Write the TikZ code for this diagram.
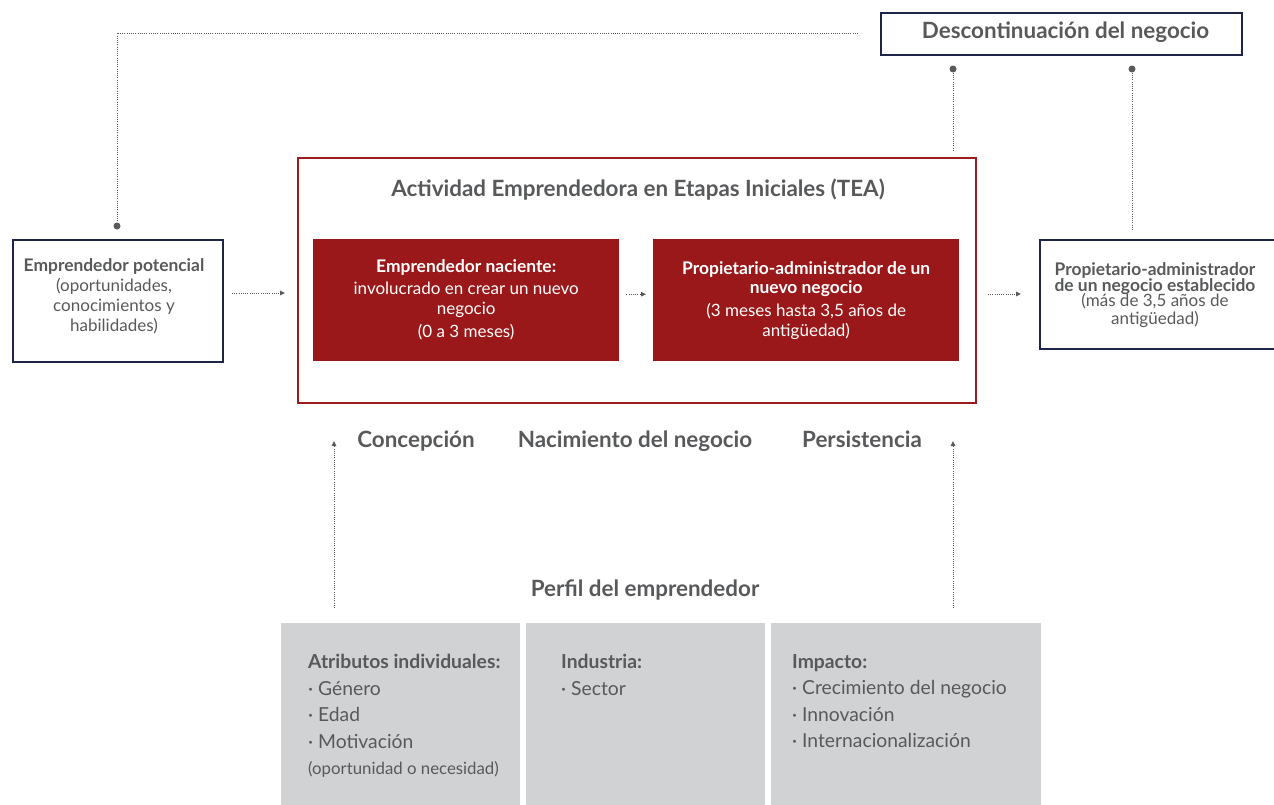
\documentclass[tikz,border=0pt]{standalone}
\usepackage{fontspec}
\setmainfont{Lato}
\usetikzlibrary{arrows.meta}
\definecolor{navy}{HTML}{1F2548}
\definecolor{tred}{HTML}{9B1B1E}
\definecolor{rfill}{HTML}{9A1819}
\definecolor{txt}{HTML}{58595B}
\definecolor{gbox}{HTML}{D1D2D4}
\definecolor{dotc}{HTML}{5A5A5A}
\newcommand{\bx}[1]{{\fontsize{17.4}{20}\selectfont\bfseries #1}}
\tikzset{
  navybox/.style={draw=navy,line width=2pt,fill=white,anchor=north west,inner sep=0pt},
  boxtext/.style={inner sep=0pt,align=center,text=txt,font=\fontsize{17}{20}\selectfont},
  redframe/.style={draw=tred,line width=2pt,anchor=north west,inner sep=0pt},
  redbox/.style={fill=rfill,anchor=north west,inner sep=0pt,align=center,text=white,
    font=\fontsize{17}{20}\selectfont},
  graybox/.style={fill=gbox,anchor=north west,inner sep=0pt},
  graytext/.style={anchor=north west,inner sep=0pt,align=left,text=txt,
    font=\fontsize{19.3}{26.5}\selectfont},
  heading/.style={text=txt,inner sep=0pt,anchor=base,font=\fontsize{22.4}{26}\selectfont\bfseries},
  dotline/.style={draw=dotc,line width=1pt,dash pattern=on 1pt off 1.2pt},
  dotarrow/.style={dotline,-{Triangle[length=5pt,width=4.5pt]}},
  blob/.style={circle,fill=dotc,inner sep=0pt,minimum size=7pt}
}
\begin{document}
\begin{tikzpicture}[x=1pt,y=-1pt]
\useasboundingbox (0,0) rectangle (1274,804);
\clip (0,0) rectangle (1274,804);

% top box
\node[navybox,minimum width=361pt,minimum height=42pt] (desc) at (880,12) {};
\node[heading,anchor=center] (desct) at ([xshift=4pt,yshift=1.5pt]desc.center)
  {Descontinuación del negocio};

% potential entrepreneur
\node[navybox,minimum width=210pt,minimum height=122pt] (pot) at (12,239) {};
\node[boxtext] (pott) at ([xshift=-4pt,yshift=5pt]pot.center)
  {\bx{Emprendedor potencial}\\ (oportunidades,\\ conocimientos y\\ habilidades)};

% TEA frame
\node[redframe,minimum width=678pt,minimum height=245pt] (tea) at (297,157) {};
\node[heading] (teat) at (638,196) {Actividad Emprendedora en Etapas Iniciales (TEA)};

\node[redbox,minimum width=306pt,minimum height=122pt] (nac) at (313,239)
  {\bx{Emprendedor naciente:}\\[2pt]
   involucrado en crear un nuevo\\ negocio\\[3pt] (0 a 3 meses)};
\node[redbox,minimum width=306pt,minimum height=122pt] (nue) at (653,239)
  {\bx{Propietario-administrador de un}\\[-1pt] \bx{nuevo negocio}\\[3pt]
   (3 meses hasta 3,5 años de\\ antigüedad)};

% established
\node[navybox,minimum width=236pt,minimum height=109pt] (est) at (1039,239) {};
\node[boxtext,font=\fontsize{17}{18}\selectfont] (estt) at ([xshift=-3pt,yshift=-1pt]est.center)
  {\bx{Propietario-administrador}\\[-2pt] \bx{de un negocio establecido}\\[-3pt] (más de 3,5 años de\\ antigüedad)};

% stage labels
\node[heading] (conc) at (416,447) {Concepción};
\node[heading] (naci) at (635,447) {Nacimiento del negocio};
\node[heading] (pers) at (862,447) {Persistencia};
\node[heading] (perf) at (645,596) {Perfil del emprendedor};

% gray boxes
\node[graybox,minimum width=239pt,minimum height=182pt] (g1) at (281,623) {};
\node[graybox,minimum width=239pt,minimum height=182pt] (g2) at (526,623) {};
\node[graybox,minimum width=270pt,minimum height=182pt] (g3) at (771,623) {};
\node[graytext] (t1) at (308,654)
  {\textbf{Atributos individuales:}\\ · Género\\ · Edad\\ · Motivación\\
   \fontsize{16.8}{18}\selectfont (oportunidad o necesidad)};
\node[graytext] (t2) at (561,654) {\textbf{Industria:}\\ · Sector};
\node[graytext] (t3) at (792,654)
  {\textbf{Impacto:}\\ · Crecimiento del negocio\\ · Innovación\\ · Internacionalización};

% connectors
\coordinate (tl) at (858,33);
\coordinate (p1) at (117,226);
\draw[dotline] (tl) -| (p1);
\node[blob] (b0) at (p1) {};

\node[blob] (b1) at (953,69) {};
\node[blob] (b2) at (1132,69) {};
\coordinate (e1) at (953,150);
\coordinate (e2) at (1132,230);
\draw[dotline] (b1) -- (e1);
\draw[dotline] (b2) -- (e2);

\coordinate (a1s) at (232,293);
\coordinate (a1e) at (285,293);
\draw[dotarrow] (a1s) -- (a1e);
\draw[dotarrow] ([xshift=7pt,yshift=6pt]nac.east) -- ([xshift=-7pt,yshift=6pt]nue.west);
\coordinate (a3s) at (988,294);
\coordinate (a3e) at (1021,294);
\draw[dotarrow] (a3s) -- (a3e);

\coordinate (u1s) at (334,608);
\coordinate (u1e) at (334,441);
\coordinate (u2s) at (953,608);
\coordinate (u2e) at (953,441);
\draw[dotarrow] (u1s) -- (u1e);
\draw[dotarrow] (u2s) -- (u2e);
\end{tikzpicture}
\end{document}
